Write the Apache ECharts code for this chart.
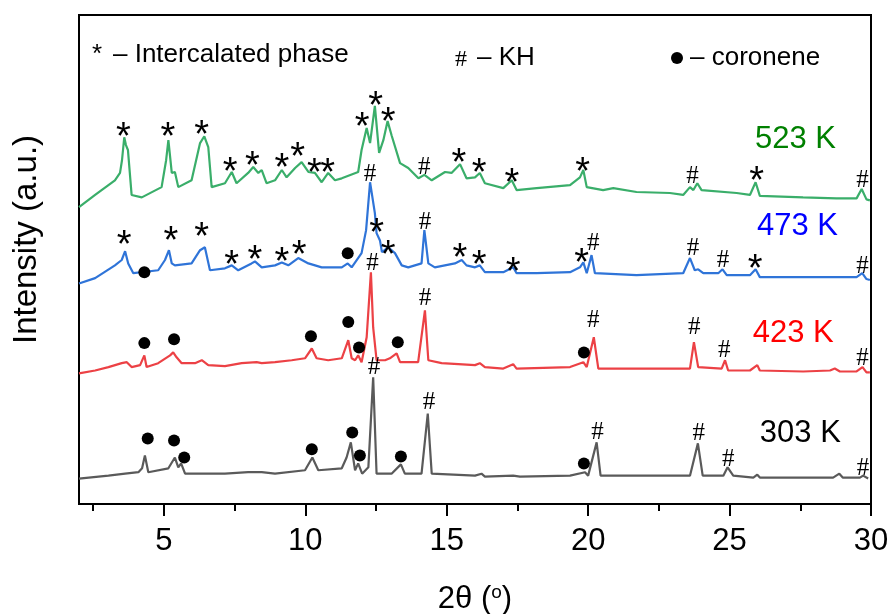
<!DOCTYPE html>
<html>
<head>
<meta charset="utf-8">
<script src="https://cdn.jsdelivr.net/npm/echarts@6/dist/echarts.min.js"></script>
<style>
  html, body { margin: 0; padding: 0; background: #fff; }
  #chart { width: 889px; height: 614px; }
</style>
</head>
<body>
<div id="chart"></div>
<script>
// XRD patterns of the coronene / KH samples, vertically offset (a.u.)
const pattern523 = [
  [2.00,60.7],[2.57,63.2],[3.27,66.2],[3.45,67.7],[3.52,70.3],[3.60,75.0],[3.66,73.4],[3.73,72.4],[3.86,63.2],
  [4.22,62.7],[4.92,64.8],[5.08,70.3],[5.16,74.4],[5.28,67.7],[5.39,67.9],[5.51,64.8],[5.98,66.2],[6.28,73.8],
  [6.43,75.2],[6.57,73.0],[6.69,64.8],[7.16,65.6],[7.40,67.9],[7.57,65.6],[7.98,67.7],[8.16,68.9],[8.34,67.7],
  [8.46,68.3],[8.63,65.6],[8.93,66.2],[9.17,68.3],[9.34,66.8],[9.64,68.7],[9.87,69.9],[10.11,67.9],[10.34,67.7],
  [10.58,65.8],[10.81,67.7],[11.05,66.2],[11.29,66.6],[11.87,67.9],[11.99,72.4],[12.17,76.9],[12.29,73.8],
  [12.46,81.4],[12.61,71.8],[12.76,74.4],[12.91,78.3],[13.05,75.4],[13.35,69.7],[13.64,68.7],[14.00,66.6],
  [14.21,67.3],[14.47,66.2],[14.94,67.9],[15.17,67.7],[15.47,69.5],[15.70,66.6],[16.00,66.8],[16.17,67.7],
  [16.35,65.6],[17.00,64.6],[17.30,66.2],[17.47,64.2],[18.18,64.6],[19.36,65.2],[19.71,66.8],[19.83,68.3],
  [19.95,64.8],[20.53,64.2],[20.89,64.6],[21.71,63.8],[22.89,63.6],[23.36,63.2],[23.60,64.8],[23.72,64.2],
  [23.86,65.6],[24.01,64.2],[25.25,63.6],[25.72,63.2],[25.92,65.8],[26.07,63.0],[27.60,62.7],[28.78,62.5],
  [29.49,62.5],[29.67,64.4],[29.84,62.3],[29.96,62.1]
];
const pattern473 = [
  [2.00,45.1],[2.57,46.2],[3.27,48.8],[3.51,49.9],[3.63,51.7],[3.74,49.2],[3.92,47.2],[4.80,47.8],[5.04,49.9],
  [5.18,51.9],[5.28,49.2],[5.39,48.8],[5.98,49.2],[6.28,51.9],[6.45,52.5],[6.63,47.8],[7.16,48.2],[7.40,48.8],
  [7.63,47.8],[8.10,49.2],[8.22,49.6],[8.46,48.4],[8.93,48.8],[9.17,49.4],[9.40,48.8],[9.75,50.3],[10.11,49.2],
  [10.58,48.4],[11.29,48.4],[11.50,49.2],[11.64,48.4],[11.99,51.3],[12.15,56.0],[12.29,65.8],[12.39,62.1],
  [12.46,59.5],[12.52,55.4],[12.64,53.9],[12.71,51.5],[12.93,52.5],[13.17,51.3],[13.41,48.8],[13.64,48.4],
  [14.11,49.2],[14.21,56.0],[14.35,49.2],[14.58,48.4],[15.29,49.2],[15.53,49.9],[15.70,48.8],[16.00,48.4],
  [16.17,48.8],[16.35,47.4],[17.00,47.4],[17.35,48.4],[17.47,47.2],[18.18,47.2],[19.36,47.4],[19.71,48.4],
  [19.83,49.4],[19.95,47.2],[20.12,50.9],[20.24,47.2],[21.71,46.8],[23.36,47.2],[23.60,50.3],[23.77,47.8],
  [23.89,48.0],[24.07,47.2],[24.60,47.2],[24.75,48.0],[24.90,46.8],[25.72,46.8],[25.92,48.0],[26.07,46.4],
  [27.60,46.4],[28.66,46.4],[29.49,46.4],[29.69,47.2],[29.84,46.0],[29.96,45.8]
];
const pattern423 = [
  [2.00,26.7],[2.57,27.3],[3.04,28.0],[3.51,28.8],[3.69,29.0],[3.86,28.0],[4.16,28.4],[4.31,30.4],[4.39,28.0],
  [4.80,28.8],[5.22,30.4],[5.33,31.0],[5.45,30.0],[5.63,28.8],[6.10,28.8],[6.34,29.4],[6.57,28.4],[7.16,28.2],
  [7.75,28.8],[8.28,29.0],[8.46,28.8],[8.93,29.0],[9.52,29.4],[9.99,29.8],[10.23,31.8],[10.40,29.8],[10.81,29.4],
  [11.29,29.8],[11.52,33.5],[11.64,29.8],[11.76,29.4],[11.87,30.4],[11.99,29.0],[12.17,34.1],[12.32,47.4],
  [12.40,36.1],[12.52,29.4],[12.82,29.4],[12.99,29.8],[13.23,30.8],[13.35,29.0],[13.99,29.0],[14.23,39.6],
  [14.35,29.4],[14.82,28.8],[16.00,28.4],[16.17,28.8],[16.35,28.0],[17.00,27.7],[17.35,28.6],[17.47,27.7],
  [19.36,28.0],[19.83,29.0],[19.95,28.0],[20.20,34.1],[20.36,27.7],[21.71,27.7],[23.60,27.7],[23.74,33.1],
  [23.89,28.0],[24.72,27.7],[24.84,29.4],[24.95,27.3],[25.72,27.3],[25.98,28.4],[26.07,27.3],[27.60,27.1],
  [28.55,27.3],[28.72,27.7],[28.90,27.1],[29.49,27.1],[29.70,28.0],[29.84,26.9],[29.96,26.9]
];
const pattern303 = [
  [2.00,5.2],[3.04,5.8],[3.63,6.2],[4.10,6.5],[4.23,7.3],[4.33,9.9],[4.45,6.5],[5.16,7.3],[5.39,9.5],[5.51,7.5],
  [5.61,8.3],[5.75,6.2],[7.16,6.2],[7.98,6.5],[8.46,6.5],[8.93,6.2],[9.99,6.9],[10.25,9.5],[10.46,6.9],[11.29,7.3],
  [11.46,9.5],[11.61,12.6],[11.76,6.9],[11.87,8.3],[12.01,6.2],[12.23,7.5],[12.40,25.9],[12.52,6.2],[13.05,6.2],
  [13.38,8.1],[13.52,6.2],[14.11,6.2],[14.33,18.5],[14.47,6.2],[16.00,5.8],[16.23,6.2],[16.35,5.6],[17.35,5.8],
  [17.41,6.2],[17.59,5.6],[19.36,5.8],[19.89,6.5],[20.00,5.8],[20.30,12.6],[20.44,5.8],[21.59,5.8],[23.60,5.8],
  [23.88,12.4],[24.05,5.8],[24.78,5.8],[24.93,7.5],[25.13,5.8],[25.84,5.4],[25.98,6.0],[26.07,5.4],[28.66,5.4],
  [28.88,6.2],[29.00,5.4],[29.61,5.4],[29.72,5.8],[29.90,5.2]
];

// Phase markers: * intercalated phase, # KH, ● coronene
const intercalatedMarks = [
  [3.57,76.9],[5.14,76.9],[6.34,77.3],[7.34,69.9],[8.13,71.1],[9.17,70.7],[9.73,73.0],[10.32,69.7],[10.79,69.7],
  [12.01,79.1],[12.49,83.4],[12.93,80.1],[15.43,71.6],[16.15,69.7],[17.30,67.5],[19.81,69.9],[25.96,67.9],
  [3.60,55.0],[5.25,55.8],[6.34,56.6],[7.40,50.9],[8.22,51.9],[9.17,51.5],[9.78,52.9],[12.52,57.4],[12.93,52.9],
  [15.47,52.3],[16.15,50.9],[17.35,49.4],[19.77,51.3],[25.90,49.9]
];
const khMarks = [
  [14.21,68.9],[23.69,67.0],[29.70,66.2],
  [12.29,67.3],[14.23,57.6],[20.18,53.3],[23.71,52.3],[24.77,49.9],[29.70,48.6],
  [12.38,49.2],[14.23,42.1],[20.18,37.6],[23.75,36.1],[24.81,31.4],[29.70,29.8],
  [12.43,27.9],[14.37,20.8],[20.33,14.6],[23.91,14.4],[24.95,9.1],[29.72,7.3]
];
const coroneneMarks = [
  [4.31,47.4],[11.50,51.3],
  [4.31,32.9],[5.36,33.7],[10.20,34.3],[11.52,37.2],[11.90,32.0],[13.27,33.1],[19.85,31.0],
  [4.43,13.4],[5.36,13.0],[5.72,9.5],[10.23,11.2],[11.66,14.6],[11.93,9.9],[13.38,9.7],[19.85,8.3]
];

// Sample temperatures and where their labels sit
const temperatures = ['523 K', '473 K', '423 K', '303 K'];
const temperatureLabelPos = [[25.90,74.6],[25.97,56.8],[25.82,34.9],[26.07,14.4]];

const majorTicks = [5, 10, 15, 20, 25, 30];
const minorTicks = [2.5, 7.5, 12.5, 17.5, 22.5, 27.5];

const lineColors = ['#3aae6a', '#2f74d8', '#ec4145', '#5a5a5a'];
const labelColors = ['#008000', '#0000ff', '#ff0000', '#000000'];
const patterns = [pattern523, pattern473, pattern423, pattern303];

const font = 'Liberation Sans, Arial, sans-serif';
const serif = 'Liberation Serif, Times New Roman, serif';

const chart = echarts.init(document.getElementById('chart'), null, { renderer: 'canvas' });

const lineSeries = patterns.map((p, i) => ({
  type: 'line',
  name: temperatures[i],
  data: p,
  showSymbol: false,
  symbol: 'none',
  lineStyle: { color: lineColors[i], width: 2.2 },
  z: 2,
  silent: true
}));

function markerSeries(points, text, fontSize, fontFamily, offsetY) {
  return {
    type: 'scatter',
    data: points,
    symbolSize: 1,
    itemStyle: { color: 'rgba(0,0,0,0)', opacity: 1 },
    label: {
      show: true,
      position: 'inside',
      formatter: text,
      color: '#000',
      opacity: 1,
      fontSize: fontSize,
      fontFamily: fontFamily,
      offset: [0, offsetY]
    },
    z: 5,
    silent: true
  };
}

const option = {
  animation: false,
  backgroundColor: '#fff',
  grid: {
    left: 79, right: 18, top: 15, bottom: 110,
    outerBoundsMode: 'none',
    containLabel: false,
    show: true, borderColor: '#000', borderWidth: 2, backgroundColor: 'transparent'
  },
  xAxis: [
    {
      type: 'value', min: 2, max: 30,
      name: '2θ ({sup|o})',
      nameLocation: 'middle',
      nameGap: 79,
      nameTextStyle: {
        fontFamily: font, fontSize: 31, color: '#000',
        rich: { sup: { fontFamily: font, fontSize: 19, color: '#000', verticalAlign: 'top', padding: [0, 0, 13, 0] } }
      },
      axisLine: { show: true, lineStyle: { color: '#000', width: 2 } },
      axisTick: { show: true, inside: false, length: 12, customValues: majorTicks, lineStyle: { color: '#000', width: 2 } },
      axisLabel: { show: true, customValues: majorTicks, margin: 22, fontFamily: font, fontSize: 31, color: '#000' },
      splitLine: { show: false }
    },
    {
      type: 'value', min: 2, max: 30, gridIndex: 0,
      position: 'bottom',
      axisLine: { show: false },
      axisTick: { show: true, inside: false, length: 7, customValues: minorTicks, lineStyle: { color: '#000', width: 2 } },
      axisLabel: { show: false },
      splitLine: { show: false }
    }
  ],
  yAxis: {
    type: 'value', min: 0, max: 100,
    name: 'Intensity (a.u.)',
    nameLocation: 'middle',
    nameRotate: 90,
    nameGap: 36,
    nameTextStyle: { fontFamily: font, fontSize: 33, color: '#000', padding: [0, 0, 0, 40] },
    axisLine: { show: true, lineStyle: { color: '#000', width: 2 } },
    axisTick: { show: false },
    axisLabel: { show: false },
    splitLine: { show: false }
  },
  series: [
    ...lineSeries,
    markerSeries(intercalatedMarks, '*', 38, font, 11),
    markerSeries(khMarks, '#', 25, serif, 0),
    {
      type: 'scatter',
      data: coroneneMarks,
      symbol: 'circle',
      symbolSize: 12,
      itemStyle: { color: '#000', opacity: 1 },
      z: 5,
      silent: true
    },
    {
      type: 'scatter',
      data: temperatureLabelPos.map((p, i) => ({
        value: p,
        label: { color: labelColors[i] }
      })),
      symbolSize: 1,
      itemStyle: { color: 'rgba(0,0,0,0)', opacity: 1 },
      label: {
        show: true,
        position: 'inside',
        align: 'left',
        opacity: 1,
        fontFamily: font,
        fontSize: 31,
        formatter: (params) => temperatures[params.dataIndex]
      },
      z: 6,
      silent: true
    }
  ],
  graphic: [
    { type: 'text', left: 92, top: 42, style: { text: '*', font: '26px ' + font, fill: '#000' } },
    { type: 'text', left: 113, top: 42, style: { text: '– Intercalated phase', font: '26px ' + font, fill: '#000' } },
    { type: 'text', left: 455, top: 48, style: { text: '#', font: '24px ' + serif, fill: '#000' } },
    { type: 'text', left: 477, top: 45, style: { text: '– KH', font: '26px ' + font, fill: '#000' } },
    { type: 'circle', shape: { cx: 677, cy: 58, r: 6 }, style: { fill: '#000' } },
    { type: 'text', left: 690, top: 45, style: { text: '– coronene', font: '26px ' + font, fill: '#000' } }
  ]
};

chart.setOption(option);
</script>
</body>
</html>
